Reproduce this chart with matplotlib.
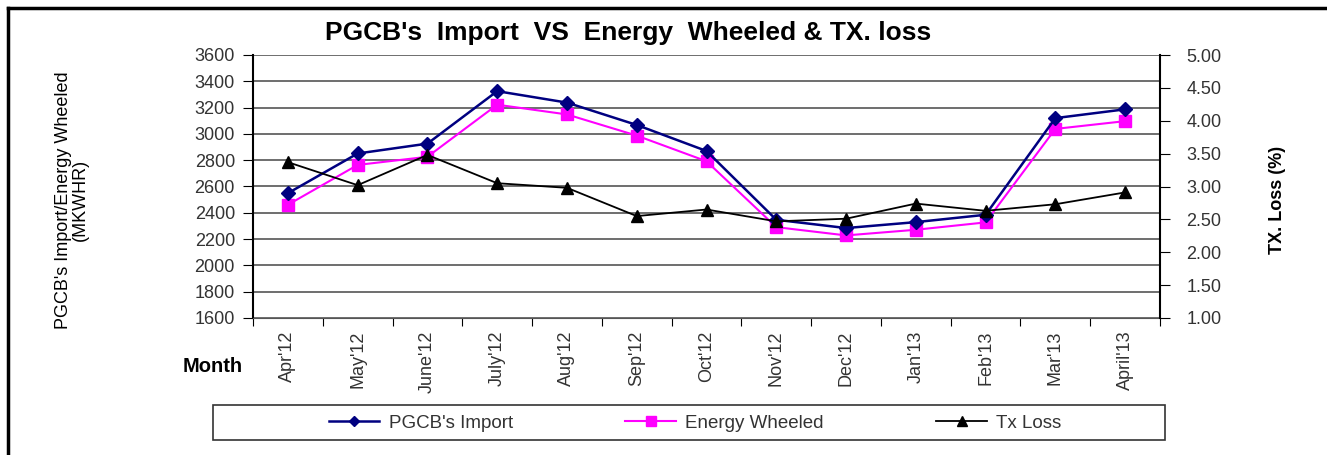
import matplotlib.pyplot as plt
from matplotlib.lines import Line2D
from matplotlib.patches import Rectangle

plt.rcParams['font.family'] = ['Liberation Sans', 'DejaVu Sans']

months = ["Apr'12", "May'12", "June'12", "July'12", "Aug'12", "Sep'12", "Oct'12",
          "Nov'12", "Dec'12", "Jan'13", "Feb'13", "Mar'13", "April'13"]
pgcb_import = [2549, 2851, 2926, 3325, 3238, 3068, 2870, 2347, 2284, 2329, 2385, 3120, 3187]
energy_wheeled = [2461, 2764, 2826, 3222, 3148, 2987, 2792, 2291, 2228, 2271, 2327, 3038, 3097]
tx_loss = [3.37, 3.02, 3.48, 3.05, 2.98, 2.55, 2.65, 2.47, 2.51, 2.74, 2.63, 2.73, 2.91]

W, H = 1327, 455
fig = plt.figure(figsize=(W / 100, H / 100), dpi=100)
ax = fig.add_axes([253 / W, 1 - 318 / H, (1160 - 253) / W, (318 - 55) / H])
ax2 = ax.twinx()

x = list(range(len(months)))
ax.plot(x, pgcb_import, color='#000080', marker='D', markersize=7, lw=1.8, zorder=4)
ax.plot(x, energy_wheeled, color='#FF00FF', marker='s', markersize=9, lw=1.5, zorder=3)
ax2.plot(x, tx_loss, color='black', marker='^', markersize=9, lw=1.3, zorder=3)

# left axis
ax.set_ylim(1600, 3600)
ax.set_yticks(range(1600, 3601, 200))
ax.set_xlim(-0.5, len(months) - 0.5)
ax.grid(axis='y', color='#6e6e6e', lw=1.4)
ax.set_axisbelow(True)
ax.tick_params(axis='y', direction='out', length=7, labelsize=13, labelcolor='#333333', pad=6)
ax.set_xticks([i - 0.5 for i in range(len(months) + 1)])
ax.set_xticklabels([])
ax.set_xticks(x, minor=True)
ax.set_xticklabels(months, minor=True, rotation=90, fontsize=13, color='#333333')
ax.tick_params(axis='x', which='major', direction='out', length=6)
ax.tick_params(axis='x', which='minor', length=0, pad=9)
for s in ['top', 'right']:
    ax.spines[s].set_visible(False)
ax.spines['left'].set_linewidth(1.5)
ax.spines['bottom'].set_color('#555555')

# right axis
ax2.set_ylim(1.0, 5.0)
ax2.set_yticks([1.0, 1.5, 2.0, 2.5, 3.0, 3.5, 4.0, 4.5, 5.0])
ax2.set_yticklabels(['%.2f' % v for v in ax2.get_yticks()])
ax2.tick_params(axis='y', direction='out', length=7, labelsize=13, labelcolor='#333333', pad=12)
for s in ['top', 'left', 'bottom']:
    ax2.spines[s].set_visible(False)
ax2.spines['right'].set_linewidth(1.5)

fig.text(628 / W, 1 - 33 / H, "PGCB's  Import  VS  Energy  Wheeled & TX. loss",
         ha='center', va='center', fontsize=19, fontweight='bold')
fig.text(72 / W, 1 - 200 / H, "PGCB's Import/Energy Wheeled\n(MKWHR)",
         rotation=90, ha='center', va='center', fontsize=13, linespacing=1.0)
fig.text(1278 / W, 1 - 200 / H, "TX. Loss (%)", rotation=90,
         ha='center', va='center', fontsize=13, fontweight='bold')
fig.text(183 / W, 1 - 366 / H, "Month", ha='left', va='center',
         fontsize=14.5, fontweight='bold')

# legend box
fig.add_artist(Rectangle((213 / W, 1 - 440 / H), (1165 - 213) / W, 35 / H,
                         transform=fig.transFigure, fill=False, edgecolor='#333333', lw=1.2))
handles = [
    Line2D([], [], color='#000080', marker='D', markersize=5, lw=1.8),
    Line2D([], [], color='#FF00FF', marker='s', markersize=7, lw=1.5),
    Line2D([], [], color='black', marker='^', markersize=7, lw=1.3),
]
fig.legend(handles, ["PGCB's Import", "Energy Wheeled", "Tx Loss"], ncol=3,
           loc='center', bbox_to_anchor=(695 / W, 1 - 423 / H),
           fontsize=13.5, frameon=False, handlelength=2.7, handletextpad=0.5,
           columnspacing=6.0, borderpad=0, labelcolor='#333333')

# outer border (left and top edges visible)
fig.add_artist(Line2D([8 / W, 8 / W], [0, 1 - 8 / H], color='black', lw=2.5,
                      transform=fig.transFigure))
fig.add_artist(Line2D([8 / W, 1], [1 - 8 / H, 1 - 8 / H], color='black', lw=2.5,
                      transform=fig.transFigure))

fig.savefig('out.png', dpi=100)
